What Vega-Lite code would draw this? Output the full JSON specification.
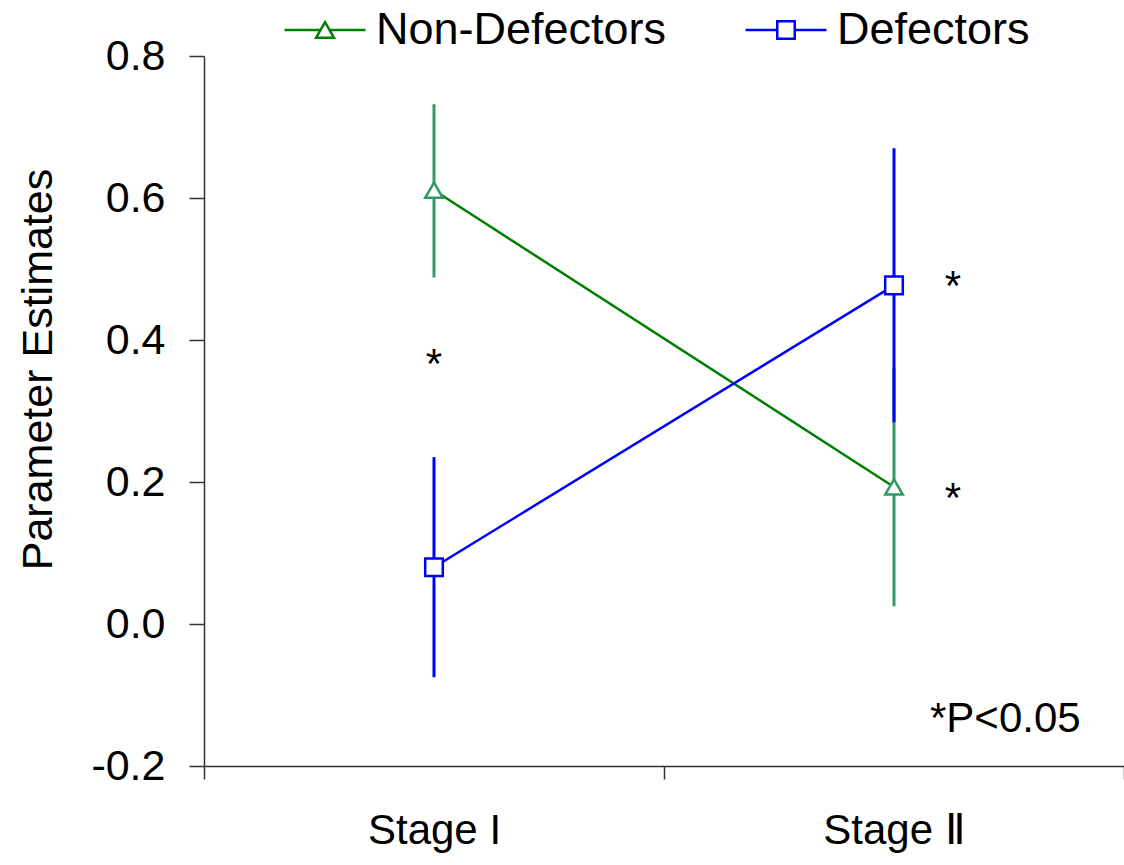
{
  "$schema": "https://vega.github.io/schema/vega-lite/v6.json",
  "width": 920,
  "height": 710,
  "autosize": {"type": "none"},
  "padding": {"left": 204, "top": 56, "right": 0, "bottom": 99},
  "background": "white",
  "config": {"view": {"stroke": null}, "font": "Liberation Sans"},
  "datasets": {
    "estimates": [
      {"stage": "Stage I", "stage_no": 1, "series": "Non-Defectors", "estimate": 0.611, "lower": 0.488, "upper": 0.732},
      {"stage": "Stage II", "stage_no": 2, "series": "Non-Defectors", "estimate": 0.193, "lower": 0.025, "upper": 0.361},
      {"stage": "Stage I", "stage_no": 1, "series": "Defectors", "estimate": 0.08, "lower": -0.075, "upper": 0.235},
      {"stage": "Stage II", "stage_no": 2, "series": "Defectors", "estimate": 0.477, "lower": 0.284, "upper": 0.67}
    ],
    "notes": [
      {"stage_no": 1, "estimate": 0.375, "label": "*"},
      {"stage_no": 2.128, "estimate": 0.4845, "label": "*"},
      {"stage_no": 2.128, "estimate": 0.186, "label": "*"},
      {"stage_no": 2.242, "estimate": -0.131, "label": "*P<0.05"}
    ]
  },
  "encoding": {
    "x": {
      "field": "stage_no",
      "type": "quantitative",
      "scale": {"domain": [0.5, 2.5], "nice": false, "zero": false},
      "axis": {
        "title": null,
        "values": [0.5, 1, 1.5, 2, 2.5],
        "labelExpr": "datum.value === 1 ? 'Stage I' : datum.value === 2 ? 'Stage Ⅱ' : ''",
        "tickOpacity": {"condition": {"test": "datum.value % 1 === 0", "value": 0}, "value": 1},
        "tickSize": 13,
        "tickColor": "#333333",
        "tickWidth": 1.5,
        "domainColor": "#333333",
        "domainWidth": 1.5,
        "labelFontSize": 42,
        "labelFont": "Liberation Sans",
        "labelColor": "black",
        "labelPadding": 31,
        "labelFlush": false,
        "labelOverlap": false,
        "grid": false
      }
    },
    "y": {
      "field": "estimate",
      "type": "quantitative",
      "scale": {"domain": [-0.2, 0.8], "nice": false, "zero": false},
      "axis": {
        "title": "Parameter Estimates",
        "values": [-0.2, 0, 0.2, 0.4, 0.6, 0.8],
        "labelExpr": "datum.value < 0 ? '-' + format(-datum.value, '.1f') : format(datum.value, '.1f')",
        "tickSize": 15,
        "tickColor": "#333333",
        "tickWidth": 1.5,
        "domainColor": "#333333",
        "domainWidth": 1.5,
        "labelFontSize": 43,
        "labelFont": "Liberation Sans",
        "labelColor": "black",
        "labelPadding": 24,
        "labelFlush": false,
        "titleFontSize": 43,
        "titleFont": "Liberation Sans",
        "titleFontWeight": "normal",
        "titleColor": "black",
        "titleX": -153,
        "titleY": 313,
        "titleAngle": 270,
        "titleBaseline": "alphabetic",
        "titleAlign": "center",
        "grid": false
      }
    }
  },
  "layer": [
    {
      "data": {"name": "estimates"},
      "mark": {"type": "line", "strokeWidth": 2.5},
      "encoding": {
        "color": {
          "field": "series",
          "type": "nominal",
          "sort": "descending",
          "scale": {"range": ["#008000", "#0000ff"]},
          "legend": {
            "orient": "none",
            "legendX": 79,
            "legendY": -68,
            "direction": "horizontal",
            "title": null,
            "symbolSize": 6561,
            "symbolStrokeWidth": 2.5,
            "labelFontSize": 45,
            "labelFont": "Liberation Sans",
            "labelColor": "black",
            "labelOffset": 9,
            "columnPadding": 73,
            "padding": 0,
            "labelLimit": 0,
            "encode": {
              "symbols": {
                "update": {
                  "shape": {"signal": "datum.value === 'Defectors' ? 'M-1,0H-0.216M0.216,0H1M-0.216,-0.216H0.216V0.216H-0.216Z' : 'M-1,0H-0.111M0.111,0H1M0,-0.193L0.222,0.193L-0.222,0.193Z'"},
                  "fill": {"value": "white"}
                }
              }
            }
          }
        },
        "order": {"field": "stage_no"}
      }
    },
    {
      "data": {"name": "estimates"},
      "mark": {"type": "rule", "strokeWidth": 3},
      "encoding": {
        "y": {"field": "lower", "type": "quantitative", "title": "Parameter Estimates"},
        "y2": {"field": "upper"},
        "stroke": {
          "field": "series",
          "type": "nominal",
          "scale": {"domain": ["Non-Defectors", "Defectors"], "range": ["#339966", "#0000ff"]},
          "legend": null
        }
      }
    },
    {
      "data": {"name": "estimates"},
      "mark": {"type": "point", "filled": true, "strokeWidth": 2.5, "size": 310, "opacity": 1},
      "encoding": {
        "stroke": {
          "field": "series",
          "type": "nominal",
          "scale": {"domain": ["Non-Defectors", "Defectors"], "range": ["#339966", "#0000ff"]},
          "legend": null
        },
        "shape": {
          "field": "series",
          "type": "nominal",
          "scale": {"domain": ["Non-Defectors", "Defectors"], "range": ["triangle-up", "square"]},
          "legend": null
        },
        "fill": {
          "field": "series",
          "type": "nominal",
          "scale": {"domain": ["Non-Defectors", "Defectors"], "range": ["white", "white"]},
          "legend": {
            "orient": "none",
            "legendX": 79,
            "legendY": -68,
            "direction": "horizontal",
            "title": null,
            "symbolSize": 6561,
            "symbolStrokeWidth": 2.5,
            "labelFontSize": 45,
            "labelFont": "Liberation Sans",
            "labelExpr": "''",
            "labelOffset": 9,
            "columnPadding": 372,
            "padding": 0,
            "labelLimit": 0,
            "encode": {
              "symbols": {
                "update": {
                  "shape": {"signal": "datum.value === 'Defectors' ? 'M-0.216,-0.216H0.216V0.216H-0.216Z' : 'M0,-0.193L0.222,0.193L-0.222,0.193Z'"},
                  "stroke": {"signal": "scale('stroke', datum.value)"},
                  "strokeWidth": {"value": 2.5}
                }
              }
            }
          }
        }
      }
    },
    {
      "data": {"name": "notes"},
      "transform": [{"filter": "datum.label === '*'"}],
      "mark": {"type": "text", "fontSize": 42, "font": "Liberation Sans", "baseline": "alphabetic", "align": "center", "dy": 20, "color": "black"},
      "encoding": {"text": {"field": "label"}}
    },
    {
      "data": {"name": "notes"},
      "transform": [{"filter": "datum.label !== '*'"}],
      "mark": {"type": "text", "fontSize": 42, "font": "Liberation Sans", "baseline": "alphabetic", "align": "center", "dy": 15, "color": "black"},
      "encoding": {"text": {"field": "label"}}
    }
  ]
}
